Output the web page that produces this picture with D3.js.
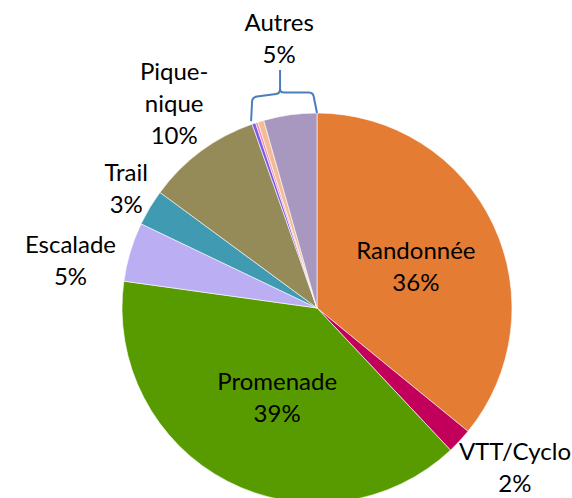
<!DOCTYPE html>
<html>
<head>
<meta charset="utf-8">
<script src="https://cdn.jsdelivr.net/npm/d3@7/dist/d3.min.js"></script>
<style>
  html, body { margin: 0; padding: 0; background: #fff; }
  svg { display: block; }
  text { font-family: Lato, "Open Sans", sans-serif; fill: #000; }
</style>
</head>
<body>
<svg id="chart" width="572" height="498"></svg>
<script>
// Activités pratiquées (part en %), dans le sens horaire depuis midi
const categories = ["Randonnée", "VTT/Cyclo", "Promenade", "Escalade", "Trail", "Pique-nique",
                    "Autres 1", "Autres 2", "Autres 3", "Autres 4"];
const values = [35.9, 2.1, 39.2, 4.9, 3.0, 9.5, 0.3, 0.2, 0.5, 4.4];
const colors = ["#E57C33", "#C2005B", "#589B00", "#BBAEF2", "#3F9AB2", "#958B58",
                "#7A5CE6", "#F08CB8", "#F5BB94", "#A898C0"];
// Catégories regroupées sous « Autres »
const autresGroup = ["Autres 1", "Autres 2", "Autres 3", "Autres 4"];

const W = 572, H = 498;
const cx = 317, cy = 308, R = 195;
const fontSize = 24, lineH = 32;

const svg = d3.select("#chart");
const g = svg.append("g").attr("transform", `translate(${cx},${cy})`);

const pie = d3.pie().sort(null).value(d => d.value);
const arc = d3.arc().innerRadius(0).outerRadius(R);
const data = categories.map((c, i) => ({ name: c, value: values[i], color: colors[i] }));
const arcs = pie(data);

g.selectAll("path.slice")
  .data(arcs)
  .join("path")
  .attr("class", "slice")
  .attr("d", arc)
  .attr("fill", d => d.data.color)
  .attr("stroke", "#fff")
  .attr("stroke-width", 0.6);

const fmt = v => Math.round(v) + "%";
const byName = Object.fromEntries(arcs.map(a => [a.data.name, a]));
const autresArcs = arcs.filter(a => autresGroup.includes(a.data.name));
const autresValue = d3.sum(autresArcs, a => a.data.value);
const autresStart = d3.min(autresArcs, a => a.startAngle);
const autresEnd = d3.max(autresArcs, a => a.endAngle);

// Label placement: polar angle (deg, clockwise from top) and radius of the text block centre
const labelLayout = [
  { name: "Randonnée", lines: ["Randonnée"], angle: 67.5, radius: 107 },
  { name: "Promenade", lines: ["Promenade"], angle: 204, radius: 98 },
  { name: "VTT/Cyclo", lines: ["VTT/Cyclo"], angle: 128.8, radius: 254 },
  { name: "Escalade", lines: ["Escalade"], angle: 280.8, radius: 251 },
  { name: "Trail", lines: ["Trail"], angle: 302, radius: 225 },
  { name: "Pique-nique", lines: ["Pique-", "nique"], angle: 325, radius: 249 },
  { name: "Autres", lines: ["Autres"], angle: 352, radius: 272 }
];

const valueOf = name => name === "Autres" ? autresValue : byName[name].data.value;

labelLayout.forEach(l => {
  const a = l.angle * Math.PI / 180;
  const x = l.radius * Math.sin(a), y = -l.radius * Math.cos(a);
  const lines = l.lines.concat([fmt(valueOf(l.name))]);
  const t = g.append("text")
    .attr("text-anchor", "middle")
    .attr("font-size", fontSize);
  const y0 = y - (lines.length - 1) * lineH / 2;
  lines.forEach((s, i) => {
    t.append("tspan")
      .attr("x", x)
      .attr("y", y0 + i * lineH)
      .attr("dy", "0.35em")
      .text(s);
  });
});

// Accolade au-dessus du groupe « Autres »
const pt = (ang, r) => [r * Math.sin(ang), -r * Math.cos(ang)];
const [lx, ly] = pt(autresStart, R + 3);
const [rx, ry] = pt(autresEnd, R);
const braceTop = Math.min(ly, ry) - 16;
const mx = (lx + rx) / 2 - 4;
const brace = d3.path();
brace.moveTo(lx, ly);
brace.lineTo(lx + 1, braceTop + 4);
brace.quadraticCurveTo(lx + 1.5, braceTop, lx + 6, braceTop - 0.5);
brace.lineTo(mx - 4, braceTop - 3);
brace.quadraticCurveTo(mx, braceTop - 3.5, mx, braceTop - 8);
brace.lineTo(mx, braceTop - 27);
brace.moveTo(mx, braceTop - 8);
brace.quadraticCurveTo(mx, braceTop - 4.5, mx + 4, braceTop - 4.5);
brace.lineTo(rx - 8, braceTop - 4.5);
brace.quadraticCurveTo(rx - 3.5, braceTop - 4.5, rx - 3, braceTop + 1);
brace.lineTo(rx, ry);
g.append("path")
  .attr("d", brace.toString())
  .attr("fill", "none")
  .attr("stroke", "#4A7EBB")
  .attr("stroke-width", 2);
</script>
</body>
</html>
